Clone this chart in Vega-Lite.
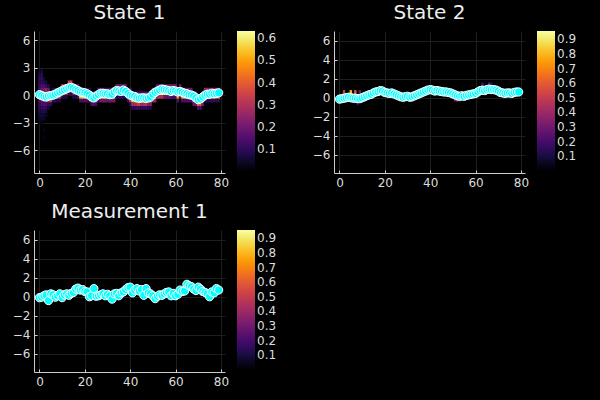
{
"$schema":"https://vega.github.io/schema/vega-lite/v6.json",
"background":"black",
"padding":{"left":12,"top":3,"right":29,"bottom":13},
"datasets":{
"s1":[{"t":0,"y":0.05},{"t":1,"y":-0.05},{"t":2,"y":-0.15},{"t":3,"y":-0.2},{"t":4,"y":-0.1},{"t":5,"y":-0.05},{"t":6,"y":0.0},{"t":7,"y":0.1},{"t":8,"y":0.25},{"t":9,"y":0.35},
{"t":10,"y":0.5},{"t":11,"y":0.6},{"t":12,"y":0.7},{"t":13,"y":0.8},{"t":14,"y":0.85},{"t":15,"y":0.75},{"t":16,"y":0.6},{"t":17,"y":0.5},{"t":18,"y":0.35},{"t":19,"y":0.3},
{"t":20,"y":0.25},{"t":21,"y":0.15},{"t":22,"y":0.0},{"t":23,"y":-0.2},{"t":24,"y":-0.3},{"t":25,"y":-0.1},{"t":26,"y":0.05},{"t":27,"y":0.2},{"t":28,"y":0.2},{"t":29,"y":0.15},
{"t":30,"y":0.15},{"t":31,"y":0.05},{"t":32,"y":0.1},{"t":33,"y":0.35},{"t":34,"y":0.5},{"t":35,"y":0.45},{"t":36,"y":0.4},{"t":37,"y":0.55},{"t":38,"y":0.4},{"t":39,"y":0.2},
{"t":40,"y":0.0},{"t":41,"y":-0.1},{"t":42,"y":-0.15},{"t":43,"y":-0.3},{"t":44,"y":-0.35},{"t":45,"y":-0.3},{"t":46,"y":-0.3},{"t":47,"y":-0.35},{"t":48,"y":-0.3},{"t":49,"y":-0.2},
{"t":50,"y":0.1},{"t":51,"y":0.3},{"t":52,"y":0.45},{"t":53,"y":0.55},{"t":54,"y":0.65},{"t":55,"y":0.6},{"t":56,"y":0.55},{"t":57,"y":0.5},{"t":58,"y":0.4},{"t":59,"y":0.5},
{"t":60,"y":0.45},{"t":61,"y":0.35},{"t":62,"y":0.4},{"t":63,"y":0.3},{"t":64,"y":0.2},{"t":65,"y":0.15},{"t":66,"y":0.05},{"t":67,"y":0.0},{"t":68,"y":-0.1},{"t":69,"y":-0.3},
{"t":70,"y":-0.5},{"t":71,"y":-0.4},{"t":72,"y":-0.2},{"t":73,"y":0.0},{"t":74,"y":0.1},{"t":75,"y":0.1},{"t":76,"y":0.2},{"t":77,"y":0.15},{"t":78,"y":0.2},{"t":79,"y":0.25}],
"s2":[{"t":0,"y":-0.15},{"t":1,"y":-0.1},{"t":2,"y":-0.05},{"t":3,"y":0.0},{"t":4,"y":0.05},{"t":5,"y":0.0},{"t":6,"y":-0.05},{"t":7,"y":-0.05},{"t":8,"y":-0.1},{"t":9,"y":-0.1},
{"t":10,"y":0.0},{"t":11,"y":0.1},{"t":12,"y":0.2},{"t":13,"y":0.3},{"t":14,"y":0.35},{"t":15,"y":0.5},{"t":16,"y":0.6},{"t":17,"y":0.65},{"t":18,"y":0.75},{"t":19,"y":0.7},
{"t":20,"y":0.55},{"t":21,"y":0.5},{"t":22,"y":0.45},{"t":23,"y":0.5},{"t":24,"y":0.4},{"t":25,"y":0.3},{"t":26,"y":0.2},{"t":27,"y":0.1},{"t":28,"y":0.05},{"t":29,"y":0.1},
{"t":30,"y":0.15},{"t":31,"y":0.05},{"t":32,"y":0.1},{"t":33,"y":0.2},{"t":34,"y":0.3},{"t":35,"y":0.4},{"t":36,"y":0.5},{"t":37,"y":0.6},{"t":38,"y":0.7},{"t":39,"y":0.8},
{"t":40,"y":0.85},{"t":41,"y":0.8},{"t":42,"y":0.7},{"t":43,"y":0.75},{"t":44,"y":0.7},{"t":45,"y":0.65},{"t":46,"y":0.6},{"t":47,"y":0.6},{"t":48,"y":0.55},{"t":49,"y":0.5},
{"t":50,"y":0.4},{"t":51,"y":0.3},{"t":52,"y":0.2},{"t":53,"y":0.15},{"t":54,"y":0.2},{"t":55,"y":0.15},{"t":56,"y":0.25},{"t":57,"y":0.3},{"t":58,"y":0.35},{"t":59,"y":0.4},
{"t":60,"y":0.45},{"t":61,"y":0.6},{"t":62,"y":0.75},{"t":63,"y":0.8},{"t":64,"y":0.75},{"t":65,"y":0.85},{"t":66,"y":0.9},{"t":67,"y":0.85},{"t":68,"y":0.85},{"t":69,"y":0.8},
{"t":70,"y":0.7},{"t":71,"y":0.55},{"t":72,"y":0.5},{"t":73,"y":0.45},{"t":74,"y":0.5},{"t":75,"y":0.5},{"t":76,"y":0.45},{"t":77,"y":0.55},{"t":78,"y":0.6},{"t":79,"y":0.6}],
"s3":[{"t":0,"y":-0.1},{"t":1,"y":-0.05},{"t":2,"y":0.1},{"t":3,"y":0.2},{"t":4,"y":-0.4},{"t":5,"y":0.3},{"t":6,"y":0.2},{"t":7,"y":-0.05},{"t":8,"y":0.1},{"t":9,"y":0.3},
{"t":10,"y":-0.1},{"t":11,"y":0.2},{"t":12,"y":0.3},{"t":13,"y":0.15},{"t":14,"y":0.35},{"t":15,"y":0.45},{"t":16,"y":0.8},{"t":17,"y":0.9},{"t":18,"y":0.7},{"t":19,"y":0.75},
{"t":20,"y":0.55},{"t":21,"y":0.5},{"t":22,"y":0.0},{"t":23,"y":0.1},{"t":24,"y":0.85},{"t":25,"y":0.05},{"t":26,"y":0.1},{"t":27,"y":0.2},{"t":28,"y":0.3},{"t":29,"y":0.1},
{"t":30,"y":0.25},{"t":31,"y":0.1},{"t":32,"y":-0.25},{"t":33,"y":0.3},{"t":34,"y":0.35},{"t":35,"y":0.1},{"t":36,"y":0.4},{"t":37,"y":0.5},{"t":38,"y":0.75},{"t":39,"y":0.95},
{"t":40,"y":1.0},{"t":41,"y":0.4},{"t":42,"y":0.7},{"t":43,"y":0.85},{"t":44,"y":0.6},{"t":45,"y":0.75},{"t":46,"y":0.15},{"t":47,"y":0.85},{"t":48,"y":0.4},{"t":49,"y":0.3},
{"t":50,"y":0.1},{"t":51,"y":-0.2},{"t":52,"y":0.05},{"t":53,"y":0.2},{"t":54,"y":0.15},{"t":55,"y":0.3},{"t":56,"y":0.45},{"t":57,"y":0.5},{"t":58,"y":0.1},{"t":59,"y":0.35},
{"t":60,"y":0.1},{"t":61,"y":0.25},{"t":62,"y":0.7},{"t":63,"y":0.55},{"t":64,"y":0.6},{"t":65,"y":1.3},{"t":66,"y":1.15},{"t":67,"y":1.05},{"t":68,"y":0.8},{"t":69,"y":0.65},
{"t":70,"y":1.0},{"t":71,"y":0.8},{"t":72,"y":0.55},{"t":73,"y":0.45},{"t":74,"y":0.3},{"t":75,"y":0.0},{"t":76,"y":0.5},{"t":77,"y":0.4},{"t":78,"y":0.85},{"t":79,"y":0.7}],
"h1":[
{"t":0,"y":2.6,"v":0.05},{"t":0,"y":2.2,"v":0.08},{"t":0,"y":1.8,"v":0.1},{"t":0,"y":1.4,"v":0.1},{"t":0,"y":1.0,"v":0.12},{"t":0,"y":0.6,"v":0.15},{"t":0,"y":0.2,"v":0.2},{"t":0,"y":-0.2,"v":0.2},{"t":0,"y":-0.6,"v":0.15},{"t":0,"y":-1.0,"v":0.12},{"t":0,"y":-1.4,"v":0.1},{"t":0,"y":-1.8,"v":0.08},{"t":0,"y":-2.2,"v":0.06},{"t":0,"y":-2.6,"v":0.05},{"t":0,"y":-3.0,"v":0.04},
{"t":1,"y":2.6,"v":0.06},{"t":1,"y":2.2,"v":0.1},{"t":1,"y":1.8,"v":0.12},{"t":1,"y":1.4,"v":0.1},{"t":1,"y":1.0,"v":0.15},{"t":1,"y":0.6,"v":0.2},{"t":1,"y":0.2,"v":0.3},{"t":1,"y":-0.2,"v":0.3},{"t":1,"y":-0.6,"v":0.2},{"t":1,"y":-1.0,"v":0.15},{"t":1,"y":-1.4,"v":0.1},{"t":1,"y":-1.8,"v":0.08},{"t":1,"y":-2.2,"v":0.06},{"t":1,"y":-2.6,"v":0.05},{"t":1,"y":-3.0,"v":0.03},
{"t":2,"y":1.8,"v":0.05},{"t":2,"y":1.4,"v":0.08},{"t":2,"y":1.0,"v":0.15},{"t":2,"y":0.6,"v":0.2},{"t":2,"y":0.2,"v":0.35},{"t":2,"y":-0.2,"v":0.35},{"t":2,"y":-0.6,"v":0.25},{"t":2,"y":-1.0,"v":0.15},{"t":2,"y":-1.4,"v":0.12},{"t":2,"y":-1.8,"v":0.08},{"t":2,"y":-2.2,"v":0.05},{"t":2,"y":-2.6,"v":0.04},{"t":2,"y":-3.8,"v":0.03},{"t":2,"y":-4.6,"v":0.03},
{"t":3,"y":1.4,"v":0.06},{"t":3,"y":1.0,"v":0.1},{"t":3,"y":0.6,"v":0.25},{"t":3,"y":0.2,"v":0.35},{"t":3,"y":-0.2,"v":0.4},{"t":3,"y":-0.6,"v":0.3},{"t":3,"y":-1.0,"v":0.15},{"t":3,"y":-1.4,"v":0.1},{"t":3,"y":-1.8,"v":0.06},{"t":3,"y":-2.2,"v":0.04},
{"t":4,"y":1.0,"v":0.08},{"t":4,"y":0.6,"v":0.2},{"t":4,"y":0.2,"v":0.3},{"t":4,"y":-0.2,"v":0.4},{"t":4,"y":-0.6,"v":0.3},{"t":4,"y":-1.0,"v":0.12},{"t":4,"y":-1.4,"v":0.06},
{"t":5,"y":0.2,"v":0.1},{"t":5,"y":-0.2,"v":0.3},{"t":5,"y":-0.6,"v":0.35},{"t":5,"y":-1.0,"v":0.1},
{"t":6,"y":0.6,"v":0.1},{"t":6,"y":0.2,"v":0.3},{"t":6,"y":-0.2,"v":0.35},{"t":6,"y":-0.6,"v":0.1},
{"t":7,"y":0.6,"v":0.12},{"t":7,"y":0.2,"v":0.3},{"t":7,"y":-0.2,"v":0.4},{"t":7,"y":-0.6,"v":0.1},
{"t":8,"y":0.6,"v":0.15},{"t":8,"y":0.2,"v":0.35},{"t":8,"y":-0.2,"v":0.35},{"t":8,"y":-0.6,"v":0.08},
{"t":9,"y":0.6,"v":0.2},{"t":9,"y":0.2,"v":0.35},{"t":9,"y":-0.2,"v":0.3},{"t":9,"y":-0.6,"v":0.08},
{"t":10,"y":1.0,"v":0.3},{"t":10,"y":0.6,"v":0.4},{"t":10,"y":0.2,"v":0.3},{"t":10,"y":-0.2,"v":0.08},
{"t":11,"y":1.0,"v":0.3},{"t":11,"y":0.6,"v":0.4},{"t":11,"y":0.2,"v":0.3},{"t":11,"y":-0.2,"v":0.08},
{"t":12,"y":1.0,"v":0.35},{"t":12,"y":0.6,"v":0.45},{"t":12,"y":0.2,"v":0.3},{"t":12,"y":-0.2,"v":0.08},
{"t":13,"y":1.4,"v":0.35},{"t":13,"y":1.0,"v":0.45},{"t":13,"y":0.6,"v":0.35},{"t":13,"y":0.2,"v":0.1},
{"t":14,"y":1.4,"v":0.35},{"t":14,"y":1.0,"v":0.45},{"t":14,"y":0.6,"v":0.35},{"t":14,"y":0.2,"v":0.1},
{"t":15,"y":1.0,"v":0.4},{"t":15,"y":0.6,"v":0.45},{"t":15,"y":0.2,"v":0.25},{"t":15,"y":-0.2,"v":0.08},
{"t":16,"y":1.0,"v":0.3},{"t":16,"y":0.6,"v":0.4},{"t":16,"y":0.2,"v":0.3},{"t":16,"y":-0.2,"v":0.08},
{"t":17,"y":1.0,"v":0.2},{"t":17,"y":0.6,"v":0.4},{"t":17,"y":0.2,"v":0.4},{"t":17,"y":-0.2,"v":0.1},
{"t":18,"y":0.6,"v":0.15},{"t":18,"y":0.2,"v":0.35},{"t":18,"y":-0.2,"v":0.55},{"t":18,"y":-0.6,"v":0.15},
{"t":19,"y":0.6,"v":0.1},{"t":19,"y":0.2,"v":0.35},{"t":19,"y":-0.2,"v":0.6},{"t":19,"y":-0.6,"v":0.15},
{"t":20,"y":0.6,"v":0.1},{"t":20,"y":0.2,"v":0.35},{"t":20,"y":-0.2,"v":0.6},{"t":20,"y":-0.6,"v":0.15},
{"t":21,"y":0.6,"v":0.1},{"t":21,"y":0.2,"v":0.35},{"t":21,"y":-0.2,"v":0.55},{"t":21,"y":-0.6,"v":0.15},
{"t":22,"y":0.6,"v":0.1},{"t":22,"y":0.2,"v":0.35},{"t":22,"y":-0.2,"v":0.5},{"t":22,"y":-0.6,"v":0.15},
{"t":23,"y":0.2,"v":0.15},{"t":23,"y":-0.2,"v":0.3},{"t":23,"y":-0.6,"v":0.45},{"t":23,"y":-1.0,"v":0.15},
{"t":24,"y":0.2,"v":0.15},{"t":24,"y":-0.2,"v":0.3},{"t":24,"y":-0.6,"v":0.5},{"t":24,"y":-1.0,"v":0.15},
{"t":25,"y":0.2,"v":0.15},{"t":25,"y":-0.2,"v":0.35},{"t":25,"y":-0.6,"v":0.45},{"t":25,"y":-1.0,"v":0.12},
{"t":26,"y":0.6,"v":0.15},{"t":26,"y":0.2,"v":0.3},{"t":26,"y":-0.2,"v":0.45},{"t":26,"y":-0.6,"v":0.15},
{"t":27,"y":0.6,"v":0.15},{"t":27,"y":0.2,"v":0.4},{"t":27,"y":-0.2,"v":0.55},{"t":27,"y":-0.6,"v":0.2},
{"t":28,"y":0.6,"v":0.15},{"t":28,"y":0.2,"v":0.4},{"t":28,"y":-0.2,"v":0.6},{"t":28,"y":-0.6,"v":0.2},
{"t":29,"y":0.6,"v":0.15},{"t":29,"y":0.2,"v":0.4},{"t":29,"y":-0.2,"v":0.55},{"t":29,"y":-0.6,"v":0.2},
{"t":30,"y":0.6,"v":0.15},{"t":30,"y":0.2,"v":0.4},{"t":30,"y":-0.2,"v":0.5},{"t":30,"y":-0.6,"v":0.2},
{"t":31,"y":0.6,"v":0.15},{"t":31,"y":0.2,"v":0.4},{"t":31,"y":-0.2,"v":0.55},{"t":31,"y":-0.6,"v":0.2},
{"t":32,"y":0.6,"v":0.15},{"t":32,"y":0.2,"v":0.4},{"t":32,"y":-0.2,"v":0.45},{"t":32,"y":-0.6,"v":0.2},
{"t":33,"y":0.6,"v":0.15},{"t":33,"y":0.2,"v":0.4},{"t":33,"y":-0.2,"v":0.5},{"t":33,"y":-0.6,"v":0.2},
{"t":34,"y":1.0,"v":0.2},{"t":34,"y":0.6,"v":0.35},{"t":34,"y":0.2,"v":0.35},{"t":34,"y":-0.2,"v":0.1},
{"t":35,"y":1.0,"v":0.2},{"t":35,"y":0.6,"v":0.35},{"t":35,"y":0.2,"v":0.35},{"t":35,"y":-0.2,"v":0.1},
{"t":36,"y":1.0,"v":0.2},{"t":36,"y":0.6,"v":0.35},{"t":36,"y":0.2,"v":0.35},{"t":36,"y":-0.2,"v":0.1},
{"t":37,"y":1.0,"v":0.2},{"t":37,"y":0.6,"v":0.35},{"t":37,"y":0.2,"v":0.35},{"t":37,"y":-0.2,"v":0.1},
{"t":38,"y":1.0,"v":0.2},{"t":38,"y":0.6,"v":0.35},{"t":38,"y":0.2,"v":0.35},{"t":38,"y":-0.2,"v":0.1},
{"t":39,"y":0.6,"v":0.2},{"t":39,"y":0.2,"v":0.35},{"t":39,"y":-0.2,"v":0.4},{"t":39,"y":-0.6,"v":0.12},
{"t":40,"y":0.6,"v":0.15},{"t":40,"y":0.2,"v":0.4},{"t":40,"y":-0.2,"v":0.55},{"t":40,"y":-0.6,"v":0.3},{"t":40,"y":-1.0,"v":0.1},
{"t":41,"y":0.2,"v":0.15},{"t":41,"y":-0.2,"v":0.4},{"t":41,"y":-0.6,"v":0.55},{"t":41,"y":-1.0,"v":0.3},{"t":41,"y":-1.4,"v":0.1},
{"t":42,"y":0.2,"v":0.15},{"t":42,"y":-0.2,"v":0.4},{"t":42,"y":-0.6,"v":0.6},{"t":42,"y":-1.0,"v":0.3},{"t":42,"y":-1.4,"v":0.1},
{"t":43,"y":0.2,"v":0.15},{"t":43,"y":-0.2,"v":0.4},{"t":43,"y":-0.6,"v":0.6},{"t":43,"y":-1.0,"v":0.3},{"t":43,"y":-1.4,"v":0.12},
{"t":44,"y":0.2,"v":0.15},{"t":44,"y":-0.2,"v":0.4},{"t":44,"y":-0.6,"v":0.55},{"t":44,"y":-1.0,"v":0.35},{"t":44,"y":-1.4,"v":0.12},
{"t":45,"y":0.2,"v":0.15},{"t":45,"y":-0.2,"v":0.4},{"t":45,"y":-0.6,"v":0.6},{"t":45,"y":-1.0,"v":0.3},{"t":45,"y":-1.4,"v":0.1},
{"t":46,"y":0.2,"v":0.15},{"t":46,"y":-0.2,"v":0.45},{"t":46,"y":-0.6,"v":0.62},{"t":46,"y":-1.0,"v":0.3},{"t":46,"y":-1.4,"v":0.1},
{"t":47,"y":0.2,"v":0.15},{"t":47,"y":-0.2,"v":0.45},{"t":47,"y":-0.6,"v":0.6},{"t":47,"y":-1.0,"v":0.3},{"t":47,"y":-1.4,"v":0.1},
{"t":48,"y":0.2,"v":0.15},{"t":48,"y":-0.2,"v":0.45},{"t":48,"y":-0.6,"v":0.62},{"t":48,"y":-1.0,"v":0.25},{"t":48,"y":-1.4,"v":0.1},
{"t":49,"y":0.2,"v":0.15},{"t":49,"y":-0.2,"v":0.45},{"t":49,"y":-0.6,"v":0.6},{"t":49,"y":-1.0,"v":0.25},{"t":49,"y":-1.4,"v":0.08},
{"t":50,"y":0.6,"v":0.2},{"t":50,"y":0.2,"v":0.45},{"t":50,"y":-0.2,"v":0.62},{"t":50,"y":-0.6,"v":0.25},
{"t":51,"y":0.6,"v":0.2},{"t":51,"y":0.2,"v":0.45},{"t":51,"y":-0.2,"v":0.62},{"t":51,"y":-0.6,"v":0.25},
{"t":52,"y":1.0,"v":0.2},{"t":52,"y":0.6,"v":0.45},{"t":52,"y":0.2,"v":0.62},{"t":52,"y":-0.2,"v":0.3},
{"t":53,"y":1.0,"v":0.2},{"t":53,"y":0.6,"v":0.45},{"t":53,"y":0.2,"v":0.63},{"t":53,"y":-0.2,"v":0.3},
{"t":54,"y":1.0,"v":0.2},{"t":54,"y":0.6,"v":0.45},{"t":54,"y":0.2,"v":0.62},{"t":54,"y":-0.2,"v":0.3},
{"t":55,"y":1.0,"v":0.2},{"t":55,"y":0.6,"v":0.45},{"t":55,"y":0.2,"v":0.58},{"t":55,"y":-0.2,"v":0.2},
{"t":56,"y":1.0,"v":0.2},{"t":56,"y":0.6,"v":0.45},{"t":56,"y":0.2,"v":0.55},{"t":56,"y":-0.2,"v":0.2},
{"t":57,"y":1.0,"v":0.2},{"t":57,"y":0.6,"v":0.45},{"t":57,"y":0.2,"v":0.55},{"t":57,"y":-0.2,"v":0.2},
{"t":58,"y":1.0,"v":0.2},{"t":58,"y":0.6,"v":0.4},{"t":58,"y":0.2,"v":0.5},{"t":58,"y":-0.2,"v":0.15},
{"t":59,"y":1.0,"v":0.2},{"t":59,"y":0.6,"v":0.4},{"t":59,"y":0.2,"v":0.5},{"t":59,"y":-0.2,"v":0.15},
{"t":60,"y":1.0,"v":0.2},{"t":60,"y":0.6,"v":0.4},{"t":60,"y":0.2,"v":0.5},{"t":60,"y":-0.2,"v":0.15},
{"t":61,"y":0.6,"v":0.2},{"t":61,"y":0.2,"v":0.4},{"t":61,"y":-0.2,"v":0.5},{"t":61,"y":-0.6,"v":0.15},
{"t":62,"y":1.0,"v":0.2},{"t":62,"y":0.6,"v":0.4},{"t":62,"y":0.2,"v":0.5},{"t":62,"y":-0.2,"v":0.15},
{"t":63,"y":0.6,"v":0.2},{"t":63,"y":0.2,"v":0.4},{"t":63,"y":-0.2,"v":0.5},{"t":63,"y":-0.6,"v":0.15},
{"t":64,"y":0.6,"v":0.2},{"t":64,"y":0.2,"v":0.4},{"t":64,"y":-0.2,"v":0.55},{"t":64,"y":-0.6,"v":0.15},
{"t":65,"y":0.6,"v":0.2},{"t":65,"y":0.2,"v":0.4},{"t":65,"y":-0.2,"v":0.6},{"t":65,"y":-0.6,"v":0.15},
{"t":66,"y":0.6,"v":0.2},{"t":66,"y":0.2,"v":0.4},{"t":66,"y":-0.2,"v":0.55},{"t":66,"y":-0.6,"v":0.15},
{"t":67,"y":0.6,"v":0.2},{"t":67,"y":0.2,"v":0.4},{"t":67,"y":-0.2,"v":0.5},{"t":67,"y":-0.6,"v":0.15},
{"t":68,"y":0.2,"v":0.15},{"t":68,"y":-0.2,"v":0.35},{"t":68,"y":-0.6,"v":0.45},{"t":68,"y":-1.0,"v":0.2},
{"t":69,"y":0.2,"v":0.15},{"t":69,"y":-0.2,"v":0.35},{"t":69,"y":-0.6,"v":0.45},{"t":69,"y":-1.0,"v":0.2},
{"t":70,"y":-0.2,"v":0.15},{"t":70,"y":-0.6,"v":0.35},{"t":70,"y":-1.0,"v":0.4},{"t":70,"y":-1.4,"v":0.15},
{"t":71,"y":-0.2,"v":0.15},{"t":71,"y":-0.6,"v":0.35},{"t":71,"y":-1.0,"v":0.4},{"t":71,"y":-1.4,"v":0.15},
{"t":72,"y":0.2,"v":0.15},{"t":72,"y":-0.2,"v":0.35},{"t":72,"y":-0.6,"v":0.45},{"t":72,"y":-1.0,"v":0.2},
{"t":73,"y":0.6,"v":0.25},{"t":73,"y":0.2,"v":0.35},{"t":73,"y":-0.2,"v":0.5},{"t":73,"y":-0.6,"v":0.1},
{"t":74,"y":0.6,"v":0.25},{"t":74,"y":0.2,"v":0.35},{"t":74,"y":-0.2,"v":0.5},{"t":74,"y":-0.6,"v":0.1},
{"t":75,"y":0.6,"v":0.25},{"t":75,"y":0.2,"v":0.35},{"t":75,"y":-0.2,"v":0.5},{"t":75,"y":-0.6,"v":0.1},
{"t":76,"y":0.6,"v":0.25},{"t":76,"y":0.2,"v":0.35},{"t":76,"y":-0.2,"v":0.5},{"t":76,"y":-0.6,"v":0.1},
{"t":77,"y":0.6,"v":0.25},{"t":77,"y":0.2,"v":0.35},{"t":77,"y":-0.2,"v":0.5},{"t":77,"y":-0.6,"v":0.1},
{"t":78,"y":0.6,"v":0.25},{"t":78,"y":0.2,"v":0.35},{"t":78,"y":-0.2,"v":0.45},{"t":78,"y":-0.6,"v":0.1},
{"t":79,"y":0.6,"v":0.25},{"t":79,"y":0.2,"v":0.35},{"t":79,"y":-0.2,"v":0.45},{"t":79,"y":-0.6,"v":0.1}],
"h2":[{"t":0,"y":-0.2,"v":0.7},{"t":1,"y":-0.2,"v":0.75},{"t":2,"y":-0.2,"v":0.8},{"t":3,"y":0.2,"v":0.8},{"t":4,"y":0.2,"v":0.85},{"t":5,"y":0.2,"v":0.8},{"t":6,"y":-0.2,"v":0.8},{"t":7,"y":-0.2,"v":0.75},{"t":8,"y":-0.2,"v":0.8},{"t":9,"y":-0.2,"v":0.7},
{"t":10,"y":0.2,"v":0.8},{"t":11,"y":0.2,"v":0.8},{"t":12,"y":0.2,"v":0.85},{"t":13,"y":0.2,"v":0.8},{"t":14,"y":0.2,"v":0.75},{"t":15,"y":0.6,"v":0.8},{"t":16,"y":0.6,"v":0.85},{"t":17,"y":0.6,"v":0.9},{"t":18,"y":0.6,"v":0.9},{"t":19,"y":0.6,"v":0.85},
{"t":20,"y":0.6,"v":0.8},{"t":21,"y":0.6,"v":0.8},{"t":22,"y":0.6,"v":0.8},{"t":23,"y":0.6,"v":0.85},{"t":24,"y":0.6,"v":0.8},{"t":25,"y":0.2,"v":0.75},{"t":26,"y":0.2,"v":0.8},{"t":27,"y":0.2,"v":0.85},{"t":28,"y":0.2,"v":0.9},{"t":29,"y":0.2,"v":0.85},
{"t":30,"y":0.2,"v":0.8},{"t":31,"y":0.2,"v":0.8},{"t":32,"y":0.2,"v":0.85},{"t":33,"y":0.2,"v":0.8},{"t":34,"y":0.2,"v":0.75},{"t":35,"y":0.6,"v":0.8},{"t":36,"y":0.6,"v":0.85},{"t":37,"y":0.6,"v":0.8},{"t":38,"y":0.6,"v":0.85},{"t":39,"y":0.6,"v":0.9},
{"t":40,"y":1.0,"v":0.95},{"t":41,"y":1.0,"v":0.85},{"t":42,"y":0.6,"v":0.8},{"t":43,"y":0.6,"v":0.85},{"t":44,"y":0.6,"v":0.8},{"t":45,"y":0.6,"v":0.8},{"t":46,"y":0.6,"v":0.85},{"t":47,"y":0.6,"v":0.8},{"t":48,"y":0.6,"v":0.8},{"t":49,"y":0.6,"v":0.75},
{"t":50,"y":0.6,"v":0.7},{"t":51,"y":0.2,"v":0.8},{"t":52,"y":0.2,"v":0.85},{"t":53,"y":0.2,"v":0.8},{"t":54,"y":0.2,"v":0.8},{"t":55,"y":0.2,"v":0.85},{"t":56,"y":0.2,"v":0.8},{"t":57,"y":0.2,"v":0.8},{"t":58,"y":0.2,"v":0.75},{"t":59,"y":0.6,"v":0.8},
{"t":60,"y":0.6,"v":0.85},{"t":61,"y":0.6,"v":0.8},{"t":62,"y":0.6,"v":0.8},{"t":63,"y":1.0,"v":0.85},{"t":64,"y":0.6,"v":0.8},{"t":65,"y":1.0,"v":0.9},{"t":66,"y":1.0,"v":0.9},{"t":67,"y":1.0,"v":0.85},{"t":68,"y":1.0,"v":0.8},{"t":69,"y":1.0,"v":0.8},
{"t":70,"y":0.6,"v":0.8},{"t":71,"y":0.6,"v":0.85},{"t":72,"y":0.6,"v":0.8},{"t":73,"y":0.6,"v":0.8},{"t":74,"y":0.6,"v":0.8},{"t":75,"y":0.6,"v":0.85},{"t":76,"y":0.6,"v":0.8},{"t":77,"y":0.6,"v":0.8},{"t":78,"y":0.6,"v":0.85},{"t":79,"y":0.6,"v":0.8},
{"t":2,"y":0.6,"v":0.5},{"t":5,"y":0.6,"v":0.8},{"t":7,"y":0.6,"v":0.6},{"t":9,"y":0.6,"v":0.3},{"t":8,"y":-0.6,"v":0.15},{"t":31,"y":-0.2,"v":0.3},{"t":32,"y":-0.2,"v":0.35},{"t":51,"y":-0.2,"v":0.3},{"t":52,"y":-0.2,"v":0.4},{"t":53,"y":-0.2,"v":0.25},{"t":63,"y":1.4,"v":0.2},{"t":66,"y":1.4,"v":0.25},{"t":67,"y":1.4,"v":0.15}],
"h3":[{"t":0,"y":-0.2,"v":0.45},{"t":1,"y":-0.2,"v":0.5},{"t":2,"y":0.2,"v":0.45},{"t":3,"y":0.2,"v":0.5},{"t":4,"y":-0.2,"v":0.4},{"t":5,"y":0.2,"v":0.45},{"t":6,"y":0.2,"v":0.5},{"t":7,"y":-0.2,"v":0.45},{"t":8,"y":0.2,"v":0.5},{"t":9,"y":0.2,"v":0.45},
{"t":10,"y":-0.2,"v":0.4},{"t":11,"y":0.2,"v":0.45},{"t":12,"y":0.2,"v":0.5},{"t":13,"y":0.2,"v":0.45},{"t":14,"y":0.2,"v":0.5},{"t":15,"y":0.6,"v":0.45},{"t":16,"y":0.6,"v":0.5},{"t":17,"y":1.0,"v":0.45},{"t":18,"y":0.6,"v":0.5},{"t":19,"y":0.6,"v":0.45},
{"t":20,"y":0.6,"v":0.5},{"t":21,"y":0.6,"v":0.45},{"t":22,"y":0.2,"v":0.4},{"t":23,"y":0.2,"v":0.45},{"t":24,"y":1.0,"v":0.4},{"t":25,"y":0.2,"v":0.45},{"t":26,"y":0.2,"v":0.5},{"t":27,"y":0.2,"v":0.45},{"t":28,"y":0.2,"v":0.5},{"t":29,"y":0.2,"v":0.45},
{"t":30,"y":0.2,"v":0.5},{"t":31,"y":0.2,"v":0.45},{"t":32,"y":-0.2,"v":0.4},{"t":33,"y":0.2,"v":0.45},{"t":34,"y":0.2,"v":0.5},{"t":35,"y":0.2,"v":0.45},{"t":36,"y":0.6,"v":0.5},{"t":37,"y":0.6,"v":0.45},{"t":38,"y":0.6,"v":0.5},{"t":39,"y":1.0,"v":0.45},
{"t":40,"y":1.0,"v":0.5},{"t":41,"y":0.6,"v":0.45},{"t":42,"y":0.6,"v":0.5},{"t":43,"y":1.0,"v":0.45},{"t":44,"y":0.6,"v":0.5},{"t":45,"y":0.6,"v":0.45},{"t":46,"y":0.2,"v":0.4},{"t":47,"y":1.0,"v":0.45},{"t":48,"y":0.6,"v":0.5},{"t":49,"y":0.2,"v":0.45},
{"t":50,"y":0.2,"v":0.5},{"t":51,"y":-0.2,"v":0.4},{"t":52,"y":0.2,"v":0.45},{"t":53,"y":0.2,"v":0.5},{"t":54,"y":0.2,"v":0.45},{"t":55,"y":0.2,"v":0.5},{"t":56,"y":0.6,"v":0.45},{"t":57,"y":0.6,"v":0.5},{"t":58,"y":0.2,"v":0.45},{"t":59,"y":0.2,"v":0.5},
{"t":60,"y":0.2,"v":0.45},{"t":61,"y":0.2,"v":0.5},{"t":62,"y":0.6,"v":0.45},{"t":63,"y":0.6,"v":0.5},{"t":64,"y":0.6,"v":0.45},{"t":65,"y":1.4,"v":0.4},{"t":66,"y":1.0,"v":0.45},{"t":67,"y":1.0,"v":0.5},{"t":68,"y":1.0,"v":0.45},{"t":69,"y":0.6,"v":0.5},
{"t":70,"y":1.0,"v":0.45},{"t":71,"y":1.0,"v":0.5},{"t":72,"y":0.6,"v":0.45},{"t":73,"y":0.6,"v":0.5},{"t":74,"y":0.2,"v":0.45},{"t":75,"y":0.2,"v":0.4},{"t":76,"y":0.6,"v":0.45},{"t":77,"y":0.6,"v":0.5},{"t":78,"y":1.0,"v":0.45},{"t":79,"y":0.6,"v":0.5}]
},
"vconcat":[
{"hconcat":[
{"width":191,"height":142,"title":"State 1",
"encoding":{"x":{"field":"t","type":"quantitative","scale":{"domain":[-2.4,81.8],"nice":false,"zero":false},"axis":{"values":[0,20,40,60,80],"title":null,"labelOverlap":false}},
"y":{"field":"y","type":"quantitative","scale":{"domain":[-8.5,7],"nice":false,"zero":false},"axis":{"values":[-6,-3,0,3,6],"title":null,"labelOverlap":false,"labelSeparation":0,"labelFontSize":12}}},
"layer":[
{"data":{"name":"h1"},"mark":{"type":"rect","width":2.4,"height":3.7},
"encoding":{"color":{"field":"v","type":"quantitative","scale":{"scheme":"inferno","domain":[0,0.633]},"legend":{"values":[0.1,0.2,0.3,0.4,0.5,0.6],"format":".1f","title":null,"labelOverlap":false}}}},
{"data":{"name":"s1"},"mark":{"type":"circle","size":68,"color":"#00ffff","opacity":1,"stroke":"white","strokeWidth":1}}
]},
{"width":191,"height":142,"title":"State 2",
"encoding":{"x":{"field":"t","type":"quantitative","scale":{"domain":[-2.4,81.8],"nice":false,"zero":false},"axis":{"values":[0,20,40,60,80],"title":null,"labelOverlap":false}},
"y":{"field":"y","type":"quantitative","scale":{"domain":[-7.9,7],"nice":false,"zero":false},"axis":{"values":[-6,-4,-2,0,2,4,6],"title":null,"labelOverlap":false,"labelSeparation":0}}},
"layer":[
{"data":{"name":"h2"},"mark":{"type":"rect","width":2.4,"height":3.8},
"encoding":{"color":{"field":"v","type":"quantitative","scale":{"scheme":"inferno","domain":[0,0.957]},"legend":{"values":[0.1,0.2,0.3,0.4,0.5,0.6,0.7,0.8,0.9],"format":".1f","title":null,"labelOverlap":false}}}},
{"data":{"name":"s2"},"mark":{"type":"circle","size":68,"color":"#00ffff","opacity":1,"stroke":"white","strokeWidth":1}}
]}
],"spacing":35,"resolve":{"scale":{"color":"independent"},"legend":{"color":"independent"}}},
{"width":191,"height":142,"title":"Measurement 1",
"encoding":{"x":{"field":"t","type":"quantitative","scale":{"domain":[-2.4,81.8],"nice":false,"zero":false},"axis":{"values":[0,20,40,60,80],"title":null,"labelOverlap":false}},
"y":{"field":"y","type":"quantitative","scale":{"domain":[-7.9,7],"nice":false,"zero":false},"axis":{"values":[-6,-4,-2,0,2,4,6],"title":null,"labelOverlap":false,"labelSeparation":0}}},
"layer":[
{"data":{"name":"h3"},"mark":{"type":"rect","width":2.4,"height":3.8},
"encoding":{"color":{"field":"v","type":"quantitative","scale":{"scheme":"inferno","domain":[0,0.957]},"legend":{"values":[0.1,0.2,0.3,0.4,0.5,0.6,0.7,0.8,0.9],"format":".1f","title":null,"labelOverlap":false}}}},
{"data":{"name":"s3"},"mark":{"type":"circle","size":68,"color":"#00ffff","opacity":1,"stroke":"white","strokeWidth":1}}
]}
],
"spacing":14,
"resolve":{"scale":{"color":"independent"},"legend":{"color":"independent"}},
"config":{
"font":"DejaVu Sans",
"view":{"stroke":null},
"axis":{"labelColor":"#dddddd","labelFontSize":12,"labelOverlap":false,"domainColor":"#cccccc","domainWidth":1,"tickColor":"#cccccc","tickSize":-3,"gridColor":"#1e1e1e","gridWidth":1,"labelPadding":7},
"legend":{"labelColor":"#dddddd","labelFontSize":12,"labelOverlap":false,"gradientLength":140,"gradientThickness":18,"gradientStrokeWidth":0,"offset":12,"padding":0,"labelOffset":8},
"title":{"color":"#eeeeee","fontSize":20,"fontWeight":"normal","anchor":"middle","offset":8}
}
}
